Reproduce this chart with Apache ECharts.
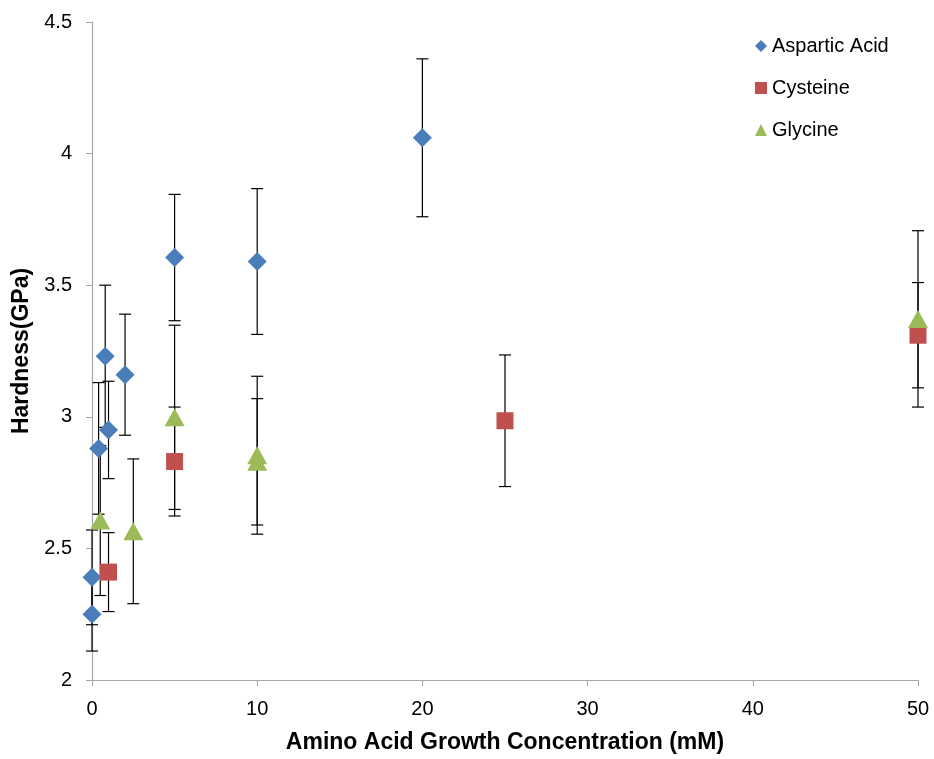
<!DOCTYPE html>
<html>
<head>
<meta charset="utf-8">
<script src="https://cdn.jsdelivr.net/npm/echarts@6/dist/echarts.min.js"></script>
<style>
  html, body { margin: 0; padding: 0; background: #ffffff; overflow: hidden; }
  #chart { width: 934px; height: 759px; }
</style>
</head>
<body>
<div id="chart"></div>
<script>
// Hardness vs. amino acid growth concentration, mean ± standard deviation
const aspX   = [0, 0, 0.4, 0.8, 1, 2, 5, 10, 20];
const aspY   = [2.25, 2.39, 2.88, 3.23, 2.95, 3.16, 3.605, 3.59, 4.06];
const aspErr = [0.14, 0.18, 0.25, 0.27, 0.185, 0.23, 0.24, 0.277, 0.30];

const cysX   = [1, 5, 25, 50];
const cysY   = [2.41, 2.83, 2.985, 3.31];
const cysErr = [0.15, 0.207, 0.25, 0.20];

const glyX   = [0.5, 2.5, 5, 10, 10, 50];
const glyY   = [2.606, 2.565, 2.998, 2.854, 2.829, 3.372];
const glyErr = [0.285, 0.275, 0.35, 0.30, 0.24, 0.335];

const xTicks = [0, 10, 20, 30, 40, 50];
const yTicks = [2, 2.5, 3, 3.5, 4, 4.5];

const seriesNames = ['Aspartic Acid', 'Cysteine', 'Glycine'];
const colors = ['#4a7ebb', '#c0504d', '#9bbb59'];
const symbols = ['diamond', 'rect', 'triangle'];
const symbolSizes = [19, 17, [20, 18]];

const groups = [
  { x: aspX, y: aspY, e: aspErr },
  { x: cysX, y: cysY, e: cysErr },
  { x: glyX, y: glyY, e: glyErr }
];

function points(g) {
  return g.x.map((v, i) => [v, g.y[i]]);
}
function errRows(g) {
  return g.x.map((v, i) => [v, g.y[i], g.e[i]]);
}

// vertical whisker with caps at mean ± error
function renderErrorBar(params, api) {
  const x = api.value(0), y = api.value(1), e = api.value(2);
  const hi = api.coord([x, y + e]);
  const lo = api.coord([x, y - e]);
  const half = 6;
  const style = { stroke: '#000000', lineWidth: 1.2 };
  return {
    type: 'group',
    children: [
      { type: 'line', shape: { x1: hi[0], y1: hi[1], x2: lo[0], y2: lo[1] }, style },
      { type: 'line', shape: { x1: hi[0] - half, y1: hi[1], x2: hi[0] + half, y2: hi[1] }, style },
      { type: 'line', shape: { x1: lo[0] - half, y1: lo[1], x2: lo[0] + half, y2: lo[1] }, style }
    ]
  };
}

const series = [];
groups.forEach((g, k) => {
  series.push({
    name: seriesNames[k] + ' error',
    type: 'custom',
    renderItem: renderErrorBar,
    data: errRows(g),
    z: 1,
    silent: true,
    encode: { x: 0, y: 1 }
  });
});
groups.forEach((g, k) => {
  series.push({
    name: seriesNames[k],
    type: 'scatter',
    data: points(g),
    symbol: symbols[k],
    symbolSize: symbolSizes[k],
    itemStyle: { color: colors[k], opacity: 1 },
    z: 2
  });
});

const family = 'Liberation Sans, Arial, sans-serif';
const axisFont = { fontFamily: family, fontSize: 20, color: '#000000' };
const titleFont = { fontFamily: family, fontSize: 23, fontWeight: 'bold', color: '#000000' };

const chart = echarts.init(document.getElementById('chart'), null, { renderer: 'canvas' });
chart.setOption({
  animation: false,
  backgroundColor: '#ffffff',
  color: colors,
  grid: { left: 92, right: 16, top: 22, bottom: 73, containLabel: false },
  legend: {
    data: seriesNames.map((n, k) => ({ name: n, icon: symbols[k] })),
    orient: 'vertical',
    left: 750,
    top: 31,
    itemWidth: 12,
    itemHeight: 12,
    itemGap: 22,
    textStyle: { fontFamily: family, fontSize: 20, color: '#000000' }
  },
  xAxis: {
    type: 'value',
    min: xTicks[0],
    max: xTicks[xTicks.length - 1],
    interval: 10,
    name: 'Amino Acid Growth Concentration (mM)',
    nameLocation: 'middle',
    nameGap: 51,
    nameTextStyle: titleFont,
    axisLine: { show: true, lineStyle: { color: '#a6a6a6', width: 1.2 } },
    axisTick: { show: true, inside: false, length: 6, lineStyle: { color: '#a6a6a6' } },
    axisLabel: Object.assign({ margin: 19 }, axisFont),
    splitLine: { show: false }
  },
  yAxis: {
    type: 'value',
    min: yTicks[0],
    max: yTicks[yTicks.length - 1],
    interval: 0.5,
    name: 'Hardness(GPa)',
    nameLocation: 'middle',
    nameRotate: 90,
    nameGap: 55,
    nameTextStyle: titleFont,
    axisLine: { show: true, lineStyle: { color: '#a6a6a6', width: 1.2 } },
    axisTick: { show: true, inside: false, length: 6, lineStyle: { color: '#a6a6a6' } },
    axisLabel: Object.assign({ margin: 20, formatter: v => String(v) }, axisFont),
    splitLine: { show: false }
  },
  series
});
</script>
</body>
</html>
